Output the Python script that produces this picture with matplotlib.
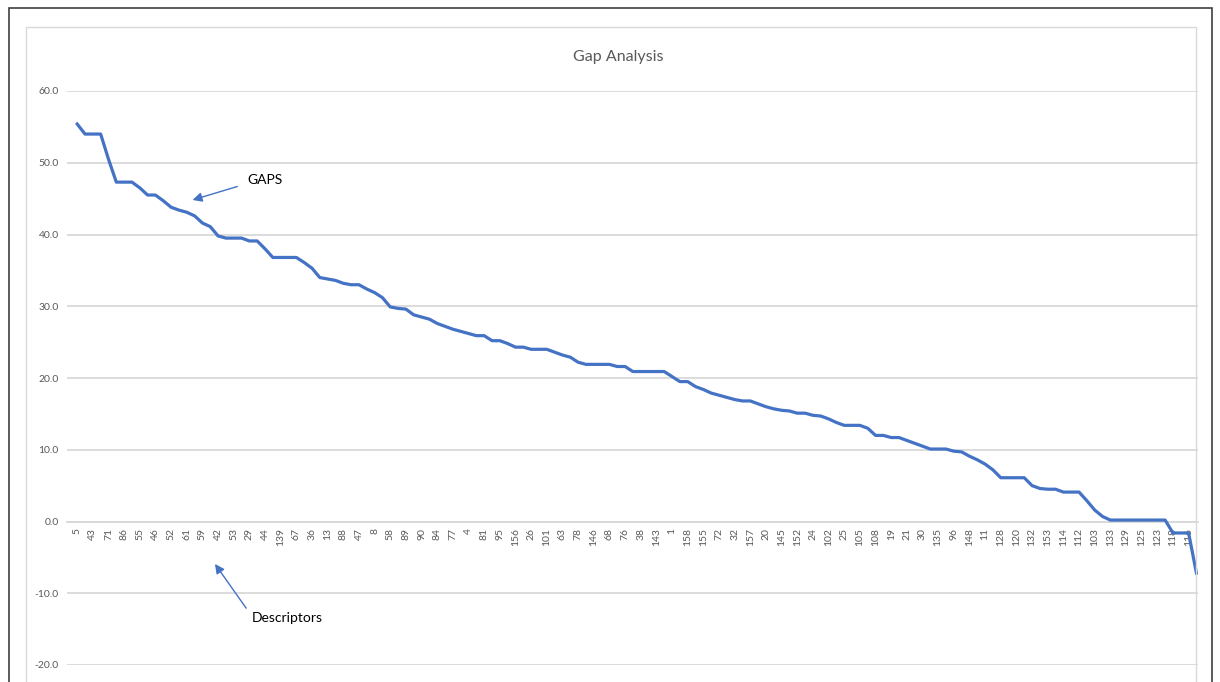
# Gap Analysis - line chart (Excel style)

import numpy as np
import matplotlib.pyplot as plt
from matplotlib.patches import Rectangle

plt.rcParams['font.family'] = ['Lato', 'DejaVu Sans']

# gap values, sorted descending (one per descriptor)
gaps = [55.4, 54.0, 54.0, 54.0, 50.5, 47.3, 47.3, 47.3, 46.5, 45.5,
        45.5, 44.7, 43.8, 43.4, 43.1, 42.6, 41.6, 41.1, 39.8, 39.5,
        39.5, 39.5, 39.1, 39.1, 38.0, 36.8, 36.8, 36.8, 36.8, 36.1,
        35.3, 34.0, 33.8, 33.6, 33.2, 33.0, 33.0, 32.4, 31.9, 31.2,
        29.9, 29.7, 29.6, 28.8, 28.5, 28.2, 27.6, 27.2, 26.8, 26.5,
        26.2, 25.9, 25.9, 25.2, 25.2, 24.8, 24.3, 24.3, 24.0, 24.0,
        24.0, 23.6, 23.2, 22.9, 22.2, 21.9, 21.9, 21.9, 21.9, 21.6,
        21.6, 20.9, 20.9, 20.9, 20.9, 20.9, 20.2, 19.5, 19.5, 18.8,
        18.4, 17.9, 17.6, 17.3, 17.0, 16.8, 16.8, 16.4, 16.0, 15.7,
        15.5, 15.4, 15.1, 15.1, 14.8, 14.7, 14.3, 13.8, 13.4, 13.4,
        13.4, 13.0, 12.0, 12.0, 11.7, 11.7, 11.3, 10.9, 10.5, 10.1,
        10.1, 10.1, 9.8, 9.7, 9.1, 8.6, 8.0, 7.2, 6.1, 6.1,
        6.1, 6.1, 5.0, 4.6, 4.5, 4.5, 4.1, 4.1, 4.1, 2.9,
        1.6, 0.7, 0.2, 0.2, 0.2, 0.2, 0.2, 0.2, 0.2, 0.2,
        -1.6, -1.6, -1.6, -7.2]

# descriptor labels shown on the axis (every second category)
shown_labels = ['5', '43', '71', '86', '55', '46', '52', '61', '59', '42',
                '53', '29', '44', '139', '67', '36', '13', '88', '47', '8',
                '58', '89', '90', '84', '77', '4', '81', '95', '156', '26',
                '101', '63', '78', '146', '68', '76', '38', '143', '1', '158',
                '155', '72', '32', '157', '20', '145', '152', '24', '102', '25',
                '105', '108', '19', '21', '30', '135', '96', '148', '11', '128',
                '120', '132', '153', '114', '112', '103', '133', '129', '125', '123',
                '118', '116']

y_ticks = np.arange(-20, 61, 10)

blue = '#4472C4'
grid = '#D9D9D9'
txt = '#595959'

fig = plt.figure(figsize=(12.2, 6.82), dpi=100)

# outer frame and chart-area border
fig.patches.append(Rectangle((9/1220, -0.01), 1203/1220, 1 - 8/682 + 0.01,
                             transform=fig.transFigure, fill=False,
                             edgecolor='#404040', lw=1.2))
fig.patches.append(Rectangle((26/1220, -0.01), 1170/1220, 1 - 27/682 + 0.01,
                             transform=fig.transFigure, fill=False,
                             edgecolor='#D9D9D9', lw=1.0))

ax = fig.add_axes([67/1220, 1 - 665/682, (1198 - 67)/1220, (665 - 91)/682])

# category axis crosses at zero (set before the tick labels)
for s in ['top', 'right', 'left']:
    ax.spines[s].set_visible(False)
ax.spines['bottom'].set_position(('data', 0))
ax.spines['bottom'].set_color(grid)
ax.spines['bottom'].set_linewidth(1.3)

x = np.arange(len(gaps))
ax.plot(x, gaps, color=blue, lw=2.3, solid_joinstyle='round', zorder=3)

ax.set_ylim(-20, 60)
ax.set_xlim(-1.3, 143.2)
ax.set_yticks(y_ticks)
ax.set_yticklabels([f'{v:.1f}' for v in y_ticks], fontsize=7.5, color=txt)
ax.yaxis.grid(True, color=grid, lw=1.3)
ax.set_axisbelow(True)

ax.set_xticks(x[::2])
ax.set_xticklabels(shown_labels, rotation=90, fontsize=7.5, color=txt)
ax.tick_params(axis='both', length=0)
ax.tick_params(axis='x', pad=5)
ax.tick_params(axis='y', pad=6)

fig.text(618/1220, 1 - 57/682, 'Gap Analysis', ha='center', va='center',
         fontsize=11.5, color=txt)

arrow = dict(arrowstyle='-|>', color=blue, lw=1.0, mutation_scale=14)
ax.annotate('', xy=(14.4, 44.7), xytext=(20.8, 46.8), arrowprops=arrow)
ax.text(21.8, 47.6, 'GAPS', fontsize=10, color='black', va='center')
ax.annotate('', xy=(17.4, -5.6), xytext=(21.8, -12.4), arrowprops=arrow)
ax.text(22.3, -13.5, 'Descriptors', fontsize=10, color='black', va='center')

fig.savefig('out.png', dpi=100, facecolor='white')
